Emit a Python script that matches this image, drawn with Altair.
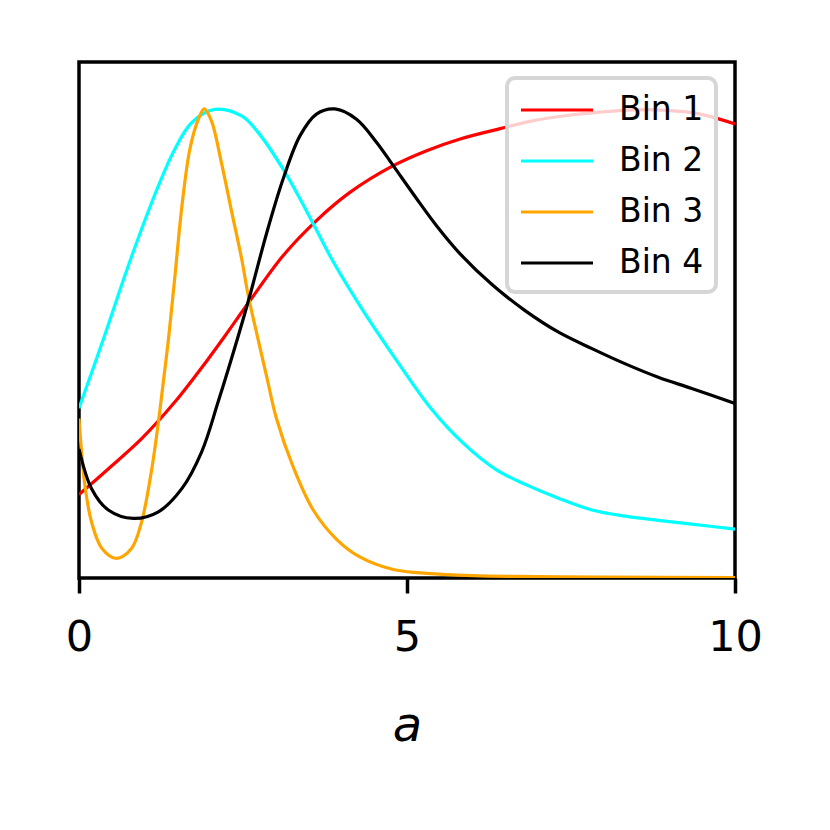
import altair as alt
import pandas as pd

# ---- data ----
series_names = ["Bin 1", "Bin 2", "Bin 3", "Bin 4"]
series_colors = ["#ff0000", "#00ffff", "#ffa500", "#000000"]
x_ticks = [0, 5, 10]

bin1_x = [0, 0.45, 0.955, 1.46, 1.97, 2.23, 2.57, 3.11, 3.62, 4.13, 4.79, 5.30, 5.81,
          6.42, 6.93, 7.44, 7.94, 8.45, 8.96, 9.47, 10]
bin1_y = [0.178, 0.233, 0.297, 0.375, 0.467, 0.517, 0.584, 0.687, 0.762, 0.822, 0.879,
          0.911, 0.936, 0.958, 0.975, 0.986, 0.993, 0.998, 0.997, 0.989, 0.968]

bin2_x = [0, 0.396, 0.70, 0.955, 1.21, 1.46, 1.72, 2.07, 2.48, 2.73, 3.11, 3.37, 3.62,
          3.88, 4.33, 4.84, 5.35, 5.86, 6.37, 6.83, 7.31, 7.82, 8.32, 8.83, 9.34, 10]
bin2_y = [0.362, 0.519, 0.645, 0.744, 0.836, 0.914, 0.971, 0.999, 0.985, 0.95, 0.872,
          0.808, 0.742, 0.673, 0.570, 0.464, 0.364, 0.287, 0.23, 0.198, 0.17, 0.145,
          0.132, 0.123, 0.115, 0.104]

bin3_x = [0, 0.09, 0.19, 0.35, 0.57, 0.80, 0.955, 1.11, 1.23, 1.31, 1.37, 1.46, 1.57,
          1.69, 1.82, 1.91, 2.02, 2.17, 2.33, 2.48, 2.58, 2.71, 2.86, 3.01, 3.27, 3.57,
          3.93, 4.28, 4.79, 5.2, 6, 7, 8, 10]
bin3_y = [0.34, 0.198, 0.12, 0.063, 0.042, 0.063, 0.12, 0.233, 0.354, 0.446, 0.517,
          0.64, 0.794, 0.914, 0.978, 1.0, 0.974, 0.886, 0.779, 0.68, 0.602, 0.521,
          0.43, 0.34, 0.235, 0.145, 0.082, 0.045, 0.018, 0.011, 0.005, 0.003, 0.002,
          0.001]

bin4_x = [0, 0.19, 0.447, 0.83, 1.21, 1.57, 1.87, 2.12, 2.43, 2.61, 2.86, 3.11, 3.37,
          3.62, 3.90, 4.23, 4.54, 4.79, 5.15, 5.45, 5.81, 6.3, 6.80, 7.31, 7.82, 8.32,
          8.83, 9.34, 10]
bin4_y = [0.275, 0.191, 0.145, 0.127, 0.141, 0.191, 0.269, 0.375, 0.517, 0.605, 0.735,
          0.85, 0.943, 0.989, 1.0, 0.978, 0.928, 0.879, 0.808, 0.751, 0.691, 0.625,
          0.570, 0.524, 0.489, 0.457, 0.428, 0.404, 0.372]

rows = []
for name, xs, ys in zip(series_names,
                        [bin1_x, bin2_x, bin3_x, bin4_x],
                        [bin1_y, bin2_y, bin3_y, bin4_y]):
    for xv, yv in zip(xs, ys):
        rows.append({"a": xv, "v": yv, "bin": name})
df = pd.DataFrame(rows)

chart = alt.Chart(df).mark_line(strokeWidth=3.2, interpolate="catmull-rom", clip=True).encode(
    x=alt.X("a:Q",
            scale=alt.Scale(domain=[0, 10], nice=False, zero=False),
            axis=alt.Axis(values=x_ticks, title="a", format="d",
                          domain=False, grid=False,
                          ticks=True, tickSize=15, tickWidth=3.5, tickColor="black",
                          labelFont="DejaVu Sans", labelFontSize=43, labelColor="black",
                          labelPadding=23, labelFlush=False,
                          titleFont="DejaVu Sans", titleFontSize=48,
                          titleFontStyle="italic", titleFontWeight="normal",
                          titleColor="black", titleBaseline="alphabetic",
                          titleY=162)),
    y=alt.Y("v:Q", scale=alt.Scale(domain=[0, 1.1], nice=False, zero=False), axis=None),
    color=alt.Color("bin:N",
                    scale=alt.Scale(domain=series_names, range=series_colors),
                    legend=alt.Legend(title=None, orient="none", legendX=428, legendY=16,
                                      symbolType="M-1,0L3,0", symbolSize=1296,
                                      symbolStrokeWidth=3.2, labelFontSize=33,
                                      labelFont="DejaVu Sans", labelColor="black",
                                      labelOffset=60, padding=12, rowPadding=14,
                                      fillColor="rgba(255,255,255,0.8)",
                                      strokeColor="#d6d6d6", cornerRadius=8)),
).properties(
    width=656, height=516,
    background="white",
    autosize=alt.AutoSizeParams(type="none"),
    padding={"left": 71, "top": 54, "right": 80, "bottom": 240},
).configure_view(
    stroke="black", strokeWidth=3.5
).configure_legend(
    strokeWidth=4
)

chart.save("out.html", embed_options={"renderer": "svg", "actions": False})
